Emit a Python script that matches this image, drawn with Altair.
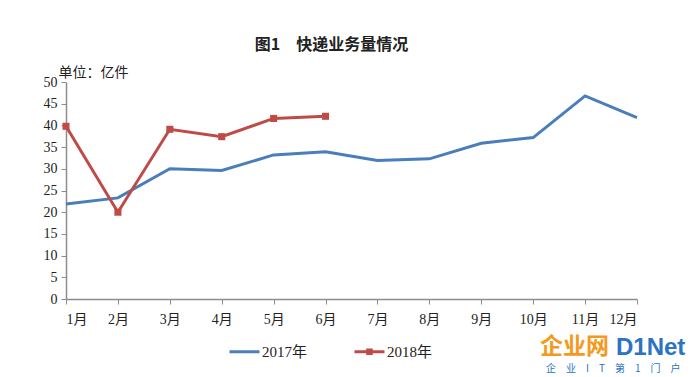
import altair as alt
import pandas as pd

months = list(range(1, 13))
series_names = ["2017年", "2018年"]
v2017 = [21.9, 23.3, 30.0, 29.6, 33.2, 33.9, 31.9, 32.3, 35.9, 37.2, 46.8, 41.8]
v2018 = [39.8, 20.0, 39.1, 37.4, 41.6, 42.1]

colors = ["#4A7EBB", "#BE4B48"]

df17 = pd.DataFrame({"month": months, "value": v2017, "series": series_names[0]})
df18 = pd.DataFrame({"month": months[:len(v2018)], "value": v2018, "series": series_names[1]})
df_all = pd.concat([df17, df18], ignore_index=True)

FONT = "Liberation Serif, Noto Sans CJK SC, serif"

x_enc = alt.X(
    "month:Q",
    scale=alt.Scale(domain=[1, 12], nice=False, zero=False),
    axis=alt.Axis(
        values=months, labelExpr="datum.value + '月'", title=None, grid=False,
        domainColor="#8c8c8c", tickColor="#8c8c8c", tickSize=5, labelPadding=8,
        labelFont=FONT, labelFontSize=14, labelColor="#222", domainWidth=1.5,
    ),
)
y_enc = alt.Y(
    "value:Q",
    scale=alt.Scale(domain=[0, 50], nice=False),
    axis=alt.Axis(
        values=list(range(0, 51, 5)), grid=False, title="单位：亿件",
        titleAngle=0, titleX=-8, titleY=-10, titleAlign="left", titleBaseline="middle",
        titleFont="Noto Sans CJK SC", titleFontSize=14, titleFontWeight="normal", titleColor="#222",
        domainColor="#8c8c8c", tickColor="#8c8c8c", tickSize=5, labelPadding=4,
        labelFont=FONT, labelFontSize=14, labelColor="#222", domainWidth=1.5,
    ),
)

line17 = alt.Chart(df17).mark_line(strokeWidth=3, color=colors[0]).encode(x=x_enc, y=y_enc)
line18 = alt.Chart(df18).mark_line(strokeWidth=3, color=colors[1]).encode(x=x_enc, y=y_enc)
pts18 = alt.Chart(df18).mark_point(shape="square", filled=True, size=50, opacity=1,
                                   color=colors[1]).encode(x=x_enc, y=y_enc)

line_path = "M-1,0H1"
line_sq_path = "M-1,0H1M-0.12,-0.12H0.12V0.12H-0.12Z"

leg = alt.Legend(title=None, orient="none", direction="horizontal",
                 legendX=162, legendY=253, symbolSize=900,
                 symbolStrokeWidth=3, labelFont=FONT, labelFontSize=15,
                 labelColor="#222", columnPadding=40, labelOffset=1)

legend_layer = alt.Chart(df_all).mark_point(opacity=0, filled=False, strokeWidth=3).encode(
    x=x_enc, y=y_enc,
    color=alt.Color("series:N", scale=alt.Scale(domain=series_names, range=colors), legend=leg),
    shape=alt.Shape("series:N", scale=alt.Scale(domain=series_names, range=[line_path, line_sq_path]),
                    legend=leg),
)

wm = alt.Chart(pd.DataFrame({"t": ["企业网"]})).mark_text(
    font="Noto Sans CJK SC", fontSize=23, fontWeight="bold", color="#F39A1E", align="left", baseline="middle"
).encode(x=alt.value(474), y=alt.value(265), text="t:N")
wm2 = alt.Chart(pd.DataFrame({"t": ["D1Net"]})).mark_text(
    font="Liberation Sans", fontSize=24, fontWeight="bold", color="#2A73C5", align="left", baseline="middle"
).encode(x=alt.value(550), y=alt.value(266), text="t:N")
wm3 = alt.Chart(pd.DataFrame({"t": ["企\u2003业\u2003I\u2003T\u2003第\u20031\u2003门\u2003户"]})).mark_text(
    font="Noto Sans CJK SC", fontSize=10, color="#2A73C5", align="left", baseline="middle"
).encode(x=alt.value(480), y=alt.value(287), text="t:N")

chart = alt.layer(line17, line18, pts18, legend_layer, wm, wm2, wm3).properties(
    width=571, height=217,
    autosize=alt.AutoSizeParams(type="none"),
    padding={"left": 58, "top": 74, "right": 55, "bottom": 78},
    title=alt.TitleParams("图1　快递业务量情况", font="Noto Sans CJK SC", fontSize=16,
                          fontWeight="bold", color="#222", offset=12, dx=-20),
).configure_view(stroke=None).configure_axis(labelFont=FONT).configure_legend(labelFont=FONT)

chart.save("out.html", embed_options={"renderer": "svg", "actions": False})
